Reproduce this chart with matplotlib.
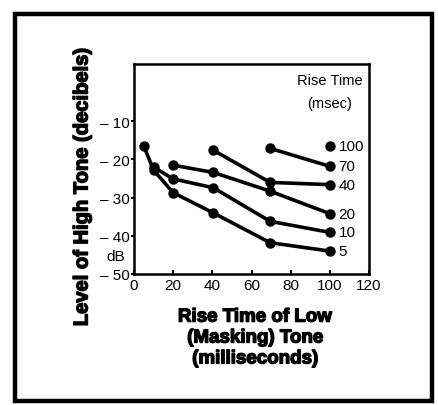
import matplotlib
matplotlib.use("Agg")
import matplotlib.pyplot as plt
import matplotlib.patheffects as pe
from matplotlib.patches import Rectangle

plt.rcParams['font.family'] = ['Liberation Sans', 'DejaVu Sans']

# high-tone rise time (msec) -> curve of (masking rise time, level dB)
curve_labels = ["100", "70", "40", "20", "10", "5"]
x_100 = [100]
y_100 = [-16.4]
x_70 = [69.5, 100]
y_70 = [-17.1, -21.8]
x_40 = [40.5, 69.5, 100]
y_40 = [-17.6, -26.0, -26.6]
x_20 = [20, 40.5, 69.5, 100]
y_20 = [-21.5, -23.4, -28.3, -34.2]
x_10 = [10, 20, 40.5, 69.5, 100]
y_10 = [-22.0, -25.1, -27.4, -36.2, -39.1]
x_5 = [5, 10, 20, 40.5, 69.5, 100]
y_5 = [-16.5, -22.8, -28.7, -34.0, -41.8, -44.0]

xs = [x_100, x_70, x_40, x_20, x_10, x_5]
ys = [y_100, y_70, y_40, y_20, y_10, y_5]

x_ticks = [0, 20, 40, 60, 80, 100, 120]
y_ticks = [-10, -20, -30, -40, -50]
y_ticklabels = ["\u2013 10", "\u2013 20", "\u2013 30", "\u2013 40", "\u2013 50"]

heavy = [pe.withStroke(linewidth=1.0, foreground="black")]

fig = plt.figure(figsize=(4.38, 4.06), dpi=100)
ax = fig.add_axes([134/438, 1-275/406, 235/438, 210/406])

for xv, yv, lab in zip(xs, ys, curve_labels):
    ax.plot(xv, yv, color="black", lw=2.6, marker="o", ms=6.5, solid_capstyle="round")
    ax.text(xv[-1] + 4.5, yv[-1], lab, fontsize=11, va="center", ha="left")

ax.set_xlim(0, 120)
ax.set_ylim(-50, 5)
ax.set_xticks(x_ticks)
ax.set_xticklabels([str(v) for v in x_ticks], fontsize=11)
ax.set_yticks(y_ticks)
ax.set_yticklabels(y_ticklabels, fontsize=11)
ax.tick_params(axis="x", direction="in", length=3, width=1.5, pad=3)
ax.tick_params(axis="y", direction="out", length=2, width=1.5, pad=1)
for s in ax.spines.values():
    s.set_linewidth(1.8)

ax.text(100, 0.8, "Rise Time", fontsize=10.5, ha="center", va="center")
ax.text(100, -5.2, "(msec)", fontsize=10.5, ha="center", va="center")

fig.text(116/438, 1-257/406, "dB", fontsize=11, ha="center", va="center")

fig.text(82/438, 1-188/406, "Level of High Tone (decibels)", fontsize=14.5,
         fontweight="bold", rotation=90, ha="center", va="center", path_effects=heavy)
fig.text(255/438, 1-339/406, "Rise Time of Low\n(Masking) Tone\n(milliseconds)",
         fontsize=13.5, fontweight="bold", ha="center", va="center", linespacing=1.3,
         path_effects=heavy)

fig.patches.append(Rectangle((15/438, 1-402/406), 417/438, 387/406,
                             transform=fig.transFigure, fill=False,
                             edgecolor="black", lw=3.2))

fig.savefig("out.png", dpi=100)
